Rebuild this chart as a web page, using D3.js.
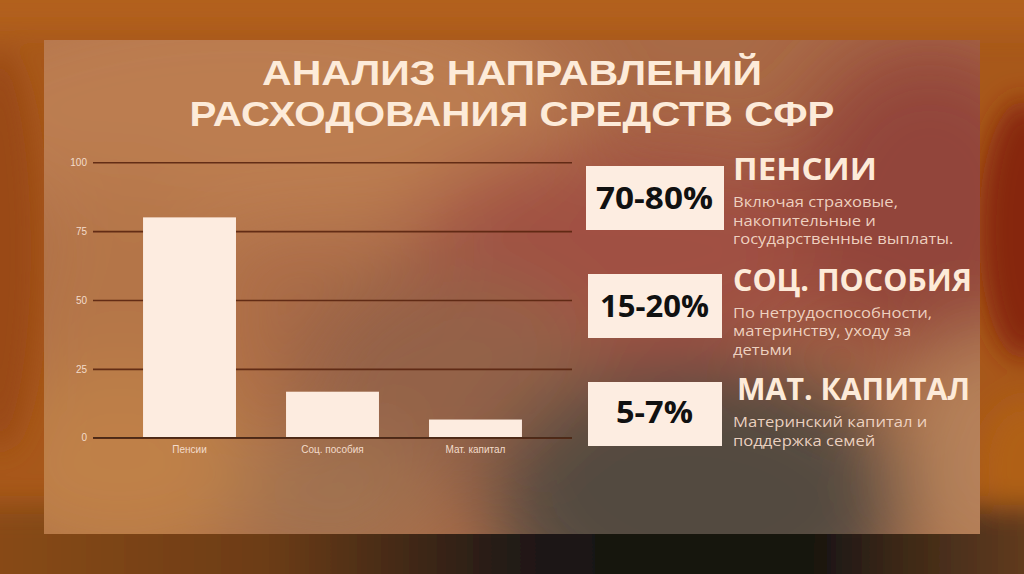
<!DOCTYPE html>
<html>
<head>
<meta charset="utf-8">
<script src="https://cdn.jsdelivr.net/npm/d3@7/dist/d3.min.js"></script>
<style>
  html, body { margin: 0; padding: 0; background: #a85a1c; }
  svg { display: block; }
</style>
</head>
<body>
<svg id="chart" width="1024" height="574"></svg>
<script>
// ---- data ----
const categories = ["Пенсии", "Соц. пособия", "Мат. капитал"];
const values = [80, 16.7, 6.6];
const yTicks = [0, 25, 50, 75, 100];
const titleLines = ["АНАЛИЗ НАПРАВЛЕНИЙ", "РАСХОДОВАНИЯ СРЕДСТВ СФР"];
const shares = ["70-80%", "15-20%", "5-7%"];
const headings = ["ПЕНСИИ", "СОЦ. ПОСОБИЯ", "МАТ. КАПИТАЛ"];
const descriptions = [
  ["Включая страховые,", "накопительные и", "государственные выплаты."],
  ["По нетрудоспособности,", "материнству, уходу за", "детьми"],
  ["Материнский капитал и", "поддержка семей"]
];

// ---- drawing ----
const W = 1024, H = 574;
const svg = d3.select("#chart");
const defs = svg.append("defs");

defs.append("filter").attr("id", "blurOut").attr("x", "-50%").attr("y", "-50%").attr("width", "200%").attr("height", "200%")
  .append("feGaussianBlur").attr("stdDeviation", 14);
defs.append("filter").attr("id", "blurIn").attr("x", "-50%").attr("y", "-50%").attr("width", "200%").attr("height", "200%")
  .append("feGaussianBlur").attr("stdDeviation", 40);

const bottomGrad = defs.append("linearGradient").attr("id", "bottomGrad").attr("x1", 0).attr("x2", 1).attr("y1", 0).attr("y2", 0);
[[0, "#8c4c18"], [0.28, "#6c3c18"], [0.5, "#221a14"], [0.62, "#141210"], [0.77, "#161310"], [0.85, "#3c2818"], [1, "#6c401e"]]
  .forEach(s => bottomGrad.append("stop").attr("offset", s[0]).attr("stop-color", s[1]));

const panel = {x: 44, y: 40, w: 936, h: 494};
defs.append("clipPath").attr("id", "panelClip")
  .append("rect").attr("x", panel.x).attr("y", panel.y).attr("width", panel.w).attr("height", panel.h);

// outer background
svg.append("rect").attr("width", W).attr("height", H).attr("fill", "#a8581a");
const outer = svg.append("g").attr("filter", "url(#blurOut)");
outer.append("rect").attr("x", -40).attr("y", -40).attr("width", W + 80).attr("height", 70).attr("fill", "#b2601c");
outer.append("ellipse").attr("cx", 0).attr("cy", 250).attr("rx", 40).attr("ry", 200).attr("fill", "#9a4a16");
outer.append("ellipse").attr("cx", 1024).attr("cy", 230).attr("rx", 45).attr("ry", 130).attr("fill", "#86280f");
outer.append("ellipse").attr("cx", 1024).attr("cy", 470).attr("rx", 45).attr("ry", 70).attr("fill", "#b06018");
outer.append("rect").attr("x", -40).attr("y", 505).attr("width", W + 80).attr("height", 120).attr("fill", "url(#bottomGrad)");

// panel background
const pg = svg.append("g").attr("clip-path", "url(#panelClip)");
pg.append("rect").attr("x", panel.x).attr("y", panel.y).attr("width", panel.w).attr("height", panel.h).attr("fill", "#a4623e");
const inner = pg.append("g").attr("filter", "url(#blurIn)");
[
  {cx: 250, cy: 110, rx: 330, ry: 130, c: "#b8764a"},
  {cx: 120, cy: 330, rx: 120, ry: 150, c: "#b06e40"},
  {cx: 640, cy: 250, rx: 230, ry: 110, c: "#9b463a"},
  {cx: 930, cy: 200, rx: 140, ry: 160, c: "#8c3b30"},
  {cx: 450, cy: 380, rx: 150, ry: 110, c: "#8e5a40"},
  {cx: 700, cy: 500, rx: 210, ry: 140, c: "#4a3f38"},
  {cx: 120, cy: 470, rx: 150, ry: 100, c: "#bb7a40"},
  {cx: 330, cy: 500, rx: 100, ry: 70, c: "#9c6c48"},
  {cx: 990, cy: 460, rx: 90, ry: 130, c: "#b27c52"}
].forEach(b => inner.append("ellipse").attr("cx", b.cx).attr("cy", b.cy).attr("rx", b.rx).attr("ry", b.ry).attr("fill", b.c));
pg.append("rect").attr("x", panel.x).attr("y", panel.y).attr("width", panel.w).attr("height", panel.h)
  .attr("fill", "#ffe6d0").attr("opacity", 0.06);

// title (one text element, two lines)
const cream = "#fdebd9";
const titleY = [84.5, 126];
const titleW = [500, 645];
const title = svg.append("text")
  .attr("text-anchor", "middle")
  .attr("font-family", "'Liberation Sans', Arial, sans-serif").attr("font-weight", 700).attr("font-size", 35.5)
  .attr("fill", cream);
title.selectAll("tspan").data(titleLines).join("tspan")
  .attr("x", 512).attr("y", (d, i) => titleY[i])
  .attr("textLength", (d, i) => titleW[i]).attr("lengthAdjust", "spacingAndGlyphs")
  .text(d => d);

// chart
const x = d3.scaleBand().domain(categories).range([93, 572]).paddingInner(0.35).paddingOuter(0.35);
const y = d3.scaleLinear().domain([0, 100]).range([437.7, 162.3]);

const gridColor = "#5a2510";
const yAxis = svg.append("g").attr("transform", "translate(93,0)")
  .call(d3.axisLeft(y).tickValues(yTicks).tickSize(-(572 - 93)).tickPadding(6));
yAxis.select(".domain").remove();
yAxis.selectAll(".tick line").attr("stroke", gridColor).attr("stroke-width", 1.6).attr("stroke-opacity", 0.9);
yAxis.selectAll(".tick text").attr("fill", "#f3dccb").attr("font-family", "'Liberation Sans', Arial, sans-serif").attr("font-size", 10);

svg.append("g").selectAll("rect").data(values).join("rect")
  .attr("x", (d, i) => x(categories[i]))
  .attr("width", x.bandwidth())
  .attr("y", d => y(d))
  .attr("height", d => y(0) - y(d))
  .attr("fill", "#fdece0");

// zero line on top of bars
svg.append("line").attr("x1", 93).attr("x2", 572).attr("y1", y(0)).attr("y2", y(0))
  .attr("stroke", "#4a2a18").attr("stroke-width", 1.4);

const xAxis = svg.append("g").attr("transform", `translate(0,${y(0)})`)
  .call(d3.axisBottom(x).tickSize(0).tickPadding(8));
xAxis.select(".domain").remove();
xAxis.selectAll(".tick text").attr("fill", "#f3dccb").attr("font-family", "'Liberation Sans', Arial, sans-serif").attr("font-size", 10);

// right panel
const boxes = [
  {x: 586, y: 166, w: 138, h: 64},
  {x: 588, y: 274, w: 134, h: 64},
  {x: 588, y: 382, w: 134, h: 64}
];
const shareBase = [209, 317, 423];
const shareW = [117, 109, 77];
const headX = [733, 733, 737];
const headBase = [180, 290.5, 400];
const headW = [144, 239, 233];

const right = svg.append("g");
boxes.forEach((b, i) => {
  right.append("rect").attr("x", b.x).attr("y", b.y).attr("width", b.w).attr("height", b.h).attr("fill", "#fdede1");
  right.append("text").attr("x", b.x + b.w / 2 - 0.5).attr("y", shareBase[i])
    .attr("text-anchor", "middle")
    .attr("font-family", "'Open Sans', sans-serif").attr("font-weight", 700).attr("font-size", 29.5)
    .attr("fill", "#111").attr("textLength", shareW[i]).attr("lengthAdjust", "spacingAndGlyphs")
    .text(shares[i]);
  right.append("text").attr("x", headX[i]).attr("y", headBase[i])
    .attr("font-family", "'Open Sans', sans-serif").attr("font-weight", 700).attr("font-size", 30.5)
    .attr("fill", cream).attr("textLength", headW[i]).attr("lengthAdjust", "spacingAndGlyphs")
    .text(headings[i]);
  descriptions[i].forEach((line, j) => {
    const t = right.append("text").attr("x", 733).attr("y", headBase[i] + 27 + j * 18.5)
      .attr("font-family", "'Open Sans', sans-serif").attr("font-size", 14.3)
      .attr("fill", "#f4dac8").attr("fill-opacity", 0.95)
      .text(line);
    const wNat = t.node().getComputedTextLength();
    t.attr("textLength", wNat * 1.16).attr("lengthAdjust", "spacingAndGlyphs");
  });
});
</script>
</body>
</html>
